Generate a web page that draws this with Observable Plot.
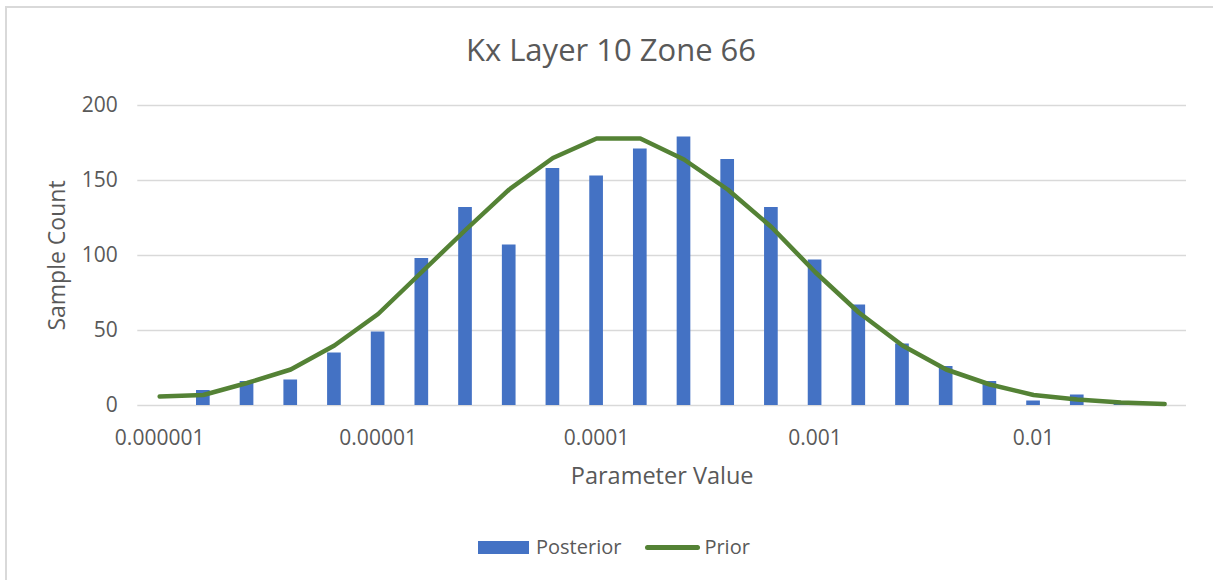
<!DOCTYPE html>
<html>
<head>
<meta charset="utf-8">
<script src="https://cdn.jsdelivr.net/npm/d3@7"></script>
<script src="https://cdn.jsdelivr.net/npm/@observablehq/plot@0.6"></script>
<style>
  html, body { margin: 0; padding: 0; background: #fff; overflow: hidden; }
  #wrap { position: relative; width: 1213px; height: 580px; overflow: hidden; font-family: "Open Sans", sans-serif; color: #595959; }
  #border { position: absolute; left: 5px; top: 6px; width: 1400px; height: 800px; border: 2px solid #d9d9d9; box-sizing: border-box; }
  #title { position: absolute; left: 611px; top: 34px; transform: translateX(-50%); font-size: 31px; line-height: 31px; white-space: nowrap; }
  #chart { position: absolute; left: 0; top: 80px; }
  #legend { position: absolute; left: 478px; top: 530px; height: 34px; display: flex; align-items: center; font-size: 20px; line-height: 20px; white-space: nowrap; }
  .sw-bar { width: 51px; height: 13px; background: #4472C4; margin-right: 7px; }
  .sw-line { width: 55px; height: 5px; border-radius: 3px; background: #548235; margin-left: 24px; margin-right: 4px; }
</style>
</head>
<body>
<div id="wrap">
  <div id="border"></div>
  <div id="title"></div>
  <div id="chart"></div>
  <div id="legend"></div>
</div>
<script>
const chartTitle = "Kx Layer 10 Zone 66";
const xTitle = "Parameter Value";
const yTitle = "Sample Count";
const seriesNames = ["Posterior", "Prior"];

const paramValues = [1e-6, 1.585e-6, 2.512e-6, 3.981e-6, 6.31e-6,
                     1e-5, 1.585e-5, 2.512e-5, 3.981e-5, 6.31e-5,
                     1e-4, 1.585e-4, 2.512e-4, 3.981e-4, 6.31e-4,
                     1e-3, 1.585e-3, 2.512e-3, 3.981e-3, 6.31e-3,
                     1e-2, 1.585e-2, 2.512e-2, 3.981e-2];
const posterior = [0, 10, 16, 17, 35, 49, 98, 132, 107, 158, 153, 171, 179, 164, 132, 97, 67, 41, 26, 16, 3, 7, 2, 0];
const prior     = [6, 7, 15, 24, 40, 61, 89, 117, 144, 165, 178, 178, 164, 144, 119, 89, 62, 40, 24, 14, 7, 4, 2, 1];

const xTickValues = [1e-6, 1e-5, 1e-4, 1e-3, 1e-2];
const xTickLabels = ["0.000001", "0.00001", "0.0001", "0.001", "0.01"];
const yTicks = [0, 50, 100, 150, 200];

const rows = paramValues.map((v, i) => ({v, posterior: posterior[i], prior: prior[i]}));

document.getElementById("title").textContent = chartTitle;

const plot = Plot.plot({
  width: 1213,
  height: 420,
  marginLeft: 137.3,
  marginRight: 27,
  marginTop: 25,
  marginBottom: 95,
  x: {type: "band", domain: paramValues, paddingInner: 0.687, paddingOuter: 0.3435, round: false, axis: null},
  y: {domain: [0, 200], axis: null},
  style: {fontFamily: "Open Sans", fontSize: "21px", color: "#595959", background: "transparent"},
  marks: [
    Plot.ruleY(yTicks, {stroke: "#d9d9d9", strokeWidth: 1.5}),
    Plot.barY(rows, {x: "v", y: "posterior", fill: "#4472C4"}),
    Plot.lineY(rows, {x: "v", y: "prior", stroke: "#548235", strokeWidth: 4.5, strokeLinecap: "round", strokeLinejoin: "round"}),
    Plot.axisX({ticks: xTickValues, tickFormat: d => xTickLabels[xTickValues.indexOf(d)], tickSize: 0, tickPadding: 25, fontSize: 21, fill: "#595959", label: null}),
    Plot.axisY({ticks: yTicks, tickSize: 0, tickPadding: 20, fontSize: 21, fill: "#595959", label: null}),
    Plot.text([xTitle], {frameAnchor: "bottom", lineAnchor: "middle", textAnchor: "middle", dy: 71, fontSize: 23.5, text: d => d, fill: "#595959"}),
    Plot.text([yTitle], {frameAnchor: "left", lineAnchor: "middle", textAnchor: "middle", dx: -80.6, rotate: -90, fontSize: 23, text: d => d, fill: "#595959"})
  ]
});
document.getElementById("chart").appendChild(plot);

const legend = document.getElementById("legend");
legend.innerHTML =
  `<div class="sw-bar"></div><span>${seriesNames[0]}</span>` +
  `<div class="sw-line"></div><span>${seriesNames[1]}</span>`;
</script>
</body>
</html>
